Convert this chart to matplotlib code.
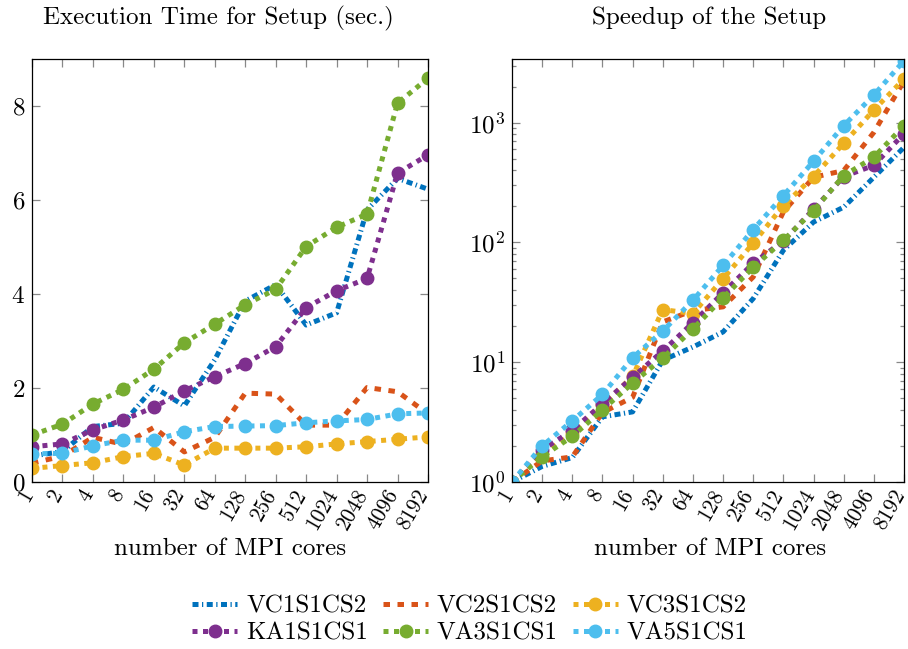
import matplotlib
matplotlib.use("Agg")
import matplotlib.pyplot as plt
from matplotlib.ticker import FixedLocator, FixedFormatter, LogLocator, NullFormatter
from matplotlib.transforms import ScaledTranslation

plt.rcParams["font.family"] = "cmr10"
plt.rcParams["mathtext.fontset"] = "cm"
plt.rcParams["axes.formatter.use_mathtext"] = True

cores = [1, 2, 4, 8, 16, 32, 64, 128, 256, 512, 1024, 2048, 4096, 8192]
core_labels = [str(c) for c in cores]
names = ["VC1S1CS2", "VC2S1CS2", "VC3S1CS2", "KA1S1CS1", "VA3S1CS1", "VA5S1CS1"]

# execution time (sec.)
time_vc1 = [0.55, 0.65, 1.18, 1.25, 2.02, 1.62, 2.60, 3.85, 4.20, 3.34, 3.60, 5.79, 6.46, 6.23]
time_vc2 = [0.40, 0.55, 0.95, 0.80, 1.16, 0.64, 0.95, 1.89, 1.87, 1.21, 1.21, 2.01, 1.92, 1.45]
time_vc3 = [0.29, 0.35, 0.41, 0.54, 0.61, 0.36, 0.72, 0.72, 0.72, 0.75, 0.81, 0.86, 0.91, 0.96]
time_ka1 = [0.75, 0.81, 1.11, 1.32, 1.59, 1.94, 2.24, 2.52, 2.88, 3.71, 4.07, 4.33, 6.57, 6.96]
time_va3 = [1.00, 1.23, 1.66, 1.97, 2.40, 2.96, 3.36, 3.77, 4.10, 5.01, 5.42, 5.70, 8.06, 8.59]
time_va5 = [0.60, 0.61, 0.77, 0.89, 0.89, 1.07, 1.18, 1.19, 1.20, 1.26, 1.30, 1.33, 1.45, 1.47]

# speedup
su_vc1 = [1, 1.35, 1.6, 3.5, 3.85, 10.4, 13.4, 17.9, 34, 86, 148, 197, 350, 622]
su_vc2 = [1, 1.5, 1.62, 3.8, 5.1, 21.7, 27, 29, 51.5, 180, 350, 398, 830, 2230]
su_vc3 = [1, 1.7, 2.55, 4.4, 7.6, 27.5, 25.5, 49.8, 98.7, 203, 355, 672, 1276, 2313]
su_ka1 = [1, 1.85, 2.7, 4.5, 7.5, 12.4, 21.4, 38, 67, 103, 189, 355, 440, 810]
su_va3 = [1, 1.63, 2.4, 4.0, 6.7, 10.8, 19, 34.5, 62, 104, 184, 361, 515, 944]
su_va5 = [1, 2.0, 3.24, 5.38, 10.9, 18.2, 32.9, 64.3, 128, 246, 476, 944, 1700, 3285]

times = [time_vc1, time_vc2, time_vc3, time_ka1, time_va3, time_va5]
speedups = [su_vc1, su_vc2, su_vc3, su_ka1, su_va3, su_va5]

colors = ["#0072BD", "#D95319", "#EDB120", "#7E2F8E", "#77AC30", "#4DBEEE"]
dotted = (0, (1.0, 1.1))
styles = [(0, (1.2, 0.7, 0.25, 0.7)), (0, (1.3, 1.5)), dotted, dotted, dotted, dotted]
markers = [None, None, "o", "o", "o", "o"]

FS = 18
W, H = 908, 649
fig = plt.figure(figsize=(W / 100, H / 100), dpi=100)
ax1 = fig.add_axes([32 / W, 1 - 482 / H, 396 / W, 423 / H])
ax2 = fig.add_axes([512 / W, 1 - 482 / H, 392 / W, 423 / H])

for ax, data in [(ax1, times), (ax2, speedups)]:
    for name, y, c, ls, mk in zip(names, data, colors, styles, markers):
        ax.plot(cores, y, color=c, lw=3.6, linestyle=ls, dash_capstyle="butt",
                marker=mk, ms=9, mec=c, label=name)
    ax.set_xscale("log", base=2)
    ax.set_xlim(1, 8192)
    ax.xaxis.set_major_locator(FixedLocator(cores))
    ax.xaxis.set_major_formatter(FixedFormatter(core_labels))
    ax.xaxis.set_minor_locator(FixedLocator([]))
    ax.tick_params(which="both", direction="in", top=True, right=True, color="#888888",
                   width=0.9, labelsize=FS)
    ax.tick_params(which="major", length=5.5)
    ax.tick_params(which="minor", length=3)
    ax.tick_params(axis="x", pad=8.5, labelsize=15.5)
    ax.tick_params(axis="y", pad=5)
    shift = ScaledTranslation(1 / 100, 0, fig.dpi_scale_trans)
    for lab in ax.get_xticklabels():
        lab.set_rotation(60)
        lab.set_ha("right")
        lab.set_va("baseline")
        lab.set_rotation_mode("anchor")
        lab.set_transform(lab.get_transform() + shift)
    for s in ax.spines.values():
        s.set_linewidth(0.9)

ax1.set_ylim(0, 9)
ax1.set_yticks([0, 2, 4, 6, 8])

ax2.set_yscale("log")
ax2.set_ylim(1, 3400)
ax2.yaxis.set_major_locator(LogLocator(base=10))
ax2.yaxis.set_minor_locator(LogLocator(base=10, subs=range(2, 10)))
ax2.yaxis.set_minor_formatter(NullFormatter())

fig.text(218 / W, 1 - 18 / H, "Execution Time for Setup (sec.)", ha="center", va="center", fontsize=FS)
fig.text(709 / W, 1 - 18 / H, "Speedup of the Setup", ha="center", va="center", fontsize=FS)
fig.text(230 / W, 1 - 549 / H, "number of MPI cores", ha="center", va="center", fontsize=FS)
fig.text(710 / W, 1 - 549 / H, "number of MPI cores", ha="center", va="center", fontsize=FS)

# row-wise legend order: matplotlib fills columns first
handles, labels = ax1.get_legend_handles_labels()
order = [0, 3, 1, 4, 2, 5]
fig.legend([handles[i] for i in order], [labels[i] for i in order], loc="center",
           bbox_to_anchor=(470 / W, 1 - 620 / H), ncol=3, frameon=False, fontsize=FS,
           handlelength=1.8, handletextpad=0.35, columnspacing=0.6, labelspacing=0.2,
           numpoints=1)

fig.savefig("out.png", dpi=100)
